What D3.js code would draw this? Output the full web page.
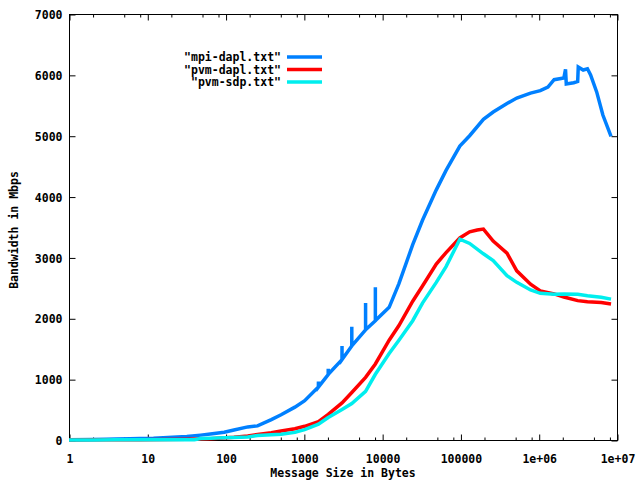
<!DOCTYPE html>
<html>
<head>
<meta charset="utf-8">
<script src="https://cdn.jsdelivr.net/npm/d3@7"></script>
<style>
  html, body { margin: 0; padding: 0; background: #fff; }
  svg { display: block; }
  text { font-family: "DejaVu Sans Mono", monospace; font-weight: bold; font-size: 11.5px; fill: #000; }
</style>
</head>
<body>
<script>
// ---- data ----
const seriesNames = ['"mpi-dapl.txt"', '"pvm-dapl.txt"', '"pvm-sdp.txt"'];
const seriesColors = ["#0080ff", "#ff0000", "#00eeee"];

const mpiSizes = [1,2,3,4,6,8,12,16,24,32,48,64,96,128,192,256,384,512,768,1024,
  1533,1536,1539,2045,2048,2051,3069,3072,3075,4093,4096,4099,6141,6144,6147,8189,8192,8195,
  12288,16384,24576,32768,49152,65536,98304,131072,196608,262144,393216,524288,786432,
  1048576,1310720,1572864,2097152,2200000,2250000,2800000,3145728,3200000,3700000,4194304,
  4600000,5500000,6600000,8388608];
const mpiMbps = [5,8,12,16,22,24,28,38,48,56,80,100,128,165,215,232,335,415,540,645,
  870,960,872,1075,1170,1080,1320,1545,1322,1545,1860,1548,1810,2250,1812,1960,2510,1962,
  2180,2570,3210,3610,4110,4430,4830,5000,5270,5390,5530,5620,5700,
  5740,5800,5920,5950,6090,5850,5870,5890,6130,6080,6100,
  6000,5720,5340,4990];

const pvmDaplSizes = [1,2,4,8,16,32,64,128,192,256,384,512,768,1024,1536,2048,3072,4096,6144,8192,
  12288,16384,24576,32768,49152,65536,98304,131072,163840,196608,262144,393216,524288,786432,
  1048576,1572864,2097152,3145728,4194304,6291456,8388608];
const pvmDaplMbps = [2,3,4,6,10,14,20,45,66,90,118,148,185,225,300,420,610,780,1030,1250,
  1640,1880,2280,2530,2890,3080,3320,3420,3450,3465,3270,3070,2780,2560,
  2450,2400,2350,2290,2270,2260,2235];

const pvmSdpSizes = [1,2,4,8,16,32,40,48,64,96,128,192,256,384,512,768,1024,1536,2048,3072,4096,6144,8192,
  12288,16384,24576,32768,49152,65536,98304,131072,196608,262144,393216,524288,786432,
  1048576,1572864,2097152,3145728,4194304,6291456,8388608];
const pvmSdpMbps = [2,2,3,3,3,4,5,25,28,35,40,50,75,85,95,125,170,260,370,500,600,800,1080,
  1420,1640,1960,2250,2590,2850,3300,3230,3060,2950,2700,2590,2465,
  2410,2395,2400,2395,2370,2345,2315];

const xTickValues = [1,10,100,1000,10000,100000,1000000,10000000];
const xTickLabels = ["1","10","100","1000","10000","100000","1e+06","1e+07"];
const yTickValues = [0,1000,2000,3000,4000,5000,6000,7000];
const xLabel = "Message Size in Bytes";
const yLabel = "Bandwidth in Mbps";

// ---- chart ----
const W = 640, H = 480;
const L = 69, R = 617, T = 14, B = 440;

const svg = d3.select("body").append("svg").attr("width", W).attr("height", H);
svg.append("rect").attr("width", W).attr("height", H).attr("fill", "#fff");

const x = d3.scaleLog().domain([1, 1e7]).range([L, R]);
const y = d3.scaleLinear().domain([0, 7000]).range([B, T]);

// minor ticks at 2,5,8 of each decade (as in reference)
const minorTicks = [];
for (let e = 0; e < 7; e++) [2,5,8].forEach(m => minorTicks.push(m * Math.pow(10, e)));

function styleAxis(g) {
  g.select(".domain").remove();
  g.selectAll(".tick line").attr("stroke", "#000").attr("stroke-width", 1);
}

// bottom
svg.append("g").attr("transform", `translate(0.5,${B + 0.5})`)
  .call(d3.axisBottom(x).tickValues(xTickValues)
    .tickFormat((d, i) => xTickLabels[i]).tickSize(-6).tickPadding(14))
  .call(styleAxis)
  .call(g => g.selectAll("text").attr("font-family", null).attr("font-size", null));
svg.append("g").attr("transform", `translate(0.5,${B + 0.5})`)
  .call(d3.axisBottom(x).tickValues(minorTicks).tickFormat("").tickSize(-3))
  .call(styleAxis);
// top
svg.append("g").attr("transform", `translate(0.5,${T + 0.5})`)
  .call(d3.axisTop(x).tickValues(xTickValues).tickFormat("").tickSize(-6))
  .call(styleAxis);
svg.append("g").attr("transform", `translate(0.5,${T + 0.5})`)
  .call(d3.axisTop(x).tickValues(minorTicks).tickFormat("").tickSize(-3))
  .call(styleAxis);
// left
svg.append("g").attr("transform", `translate(${L + 0.5},0.5)`)
  .call(d3.axisLeft(y).tickValues(yTickValues).tickFormat(d3.format("d")).tickSize(-6).tickPadding(7))
  .call(styleAxis)
  .call(g => g.selectAll("text").attr("font-family", null).attr("font-size", null).attr("dy", "0.36em"));
// right
svg.append("g").attr("transform", `translate(${R + 0.5},0.5)`)
  .call(d3.axisRight(y).tickValues(yTickValues).tickFormat("").tickSize(-6))
  .call(styleAxis);

// border
svg.append("rect").attr("x", L + 0.5).attr("y", T + 0.5)
  .attr("width", R - L).attr("height", B - T)
  .attr("fill", "none").attr("stroke", "#000").attr("stroke-width", 1);

// lines
const series = [
  { sizes: mpiSizes, vals: mpiMbps },
  { sizes: pvmDaplSizes, vals: pvmDaplMbps },
  { sizes: pvmSdpSizes, vals: pvmSdpMbps }
];
const line = d3.line().x(d => x(d[0])).y(d => y(d[1]));
series.forEach((s, i) => {
  const pts = s.sizes.map((sz, j) => [sz, s.vals[j]]);
  svg.append("path").datum(pts).attr("d", line)
    .attr("fill", "none").attr("stroke", seriesColors[i])
    .attr("stroke-width", 3.5).attr("stroke-linejoin", "miter").attr("stroke-linecap", "butt");
});

// legend
const legY = [57, 69.5, 82];
seriesNames.forEach((n, i) => {
  svg.append("text").attr("x", 281).attr("y", legY[i]).attr("dy", "0.36em")
    .attr("text-anchor", "end").text(n);
  svg.append("line").attr("x1", 287).attr("x2", 322).attr("y1", legY[i]).attr("y2", legY[i])
    .attr("stroke", seriesColors[i]).attr("stroke-width", 3.5);
});

// axis labels
svg.append("text").attr("x", (L + R) / 2).attr("y", 477)
  .attr("text-anchor", "middle").text(xLabel);
svg.append("text").attr("transform", `translate(18,230) rotate(-90)`)
  .attr("text-anchor", "middle").text(yLabel);
</script>
</body>
</html>
